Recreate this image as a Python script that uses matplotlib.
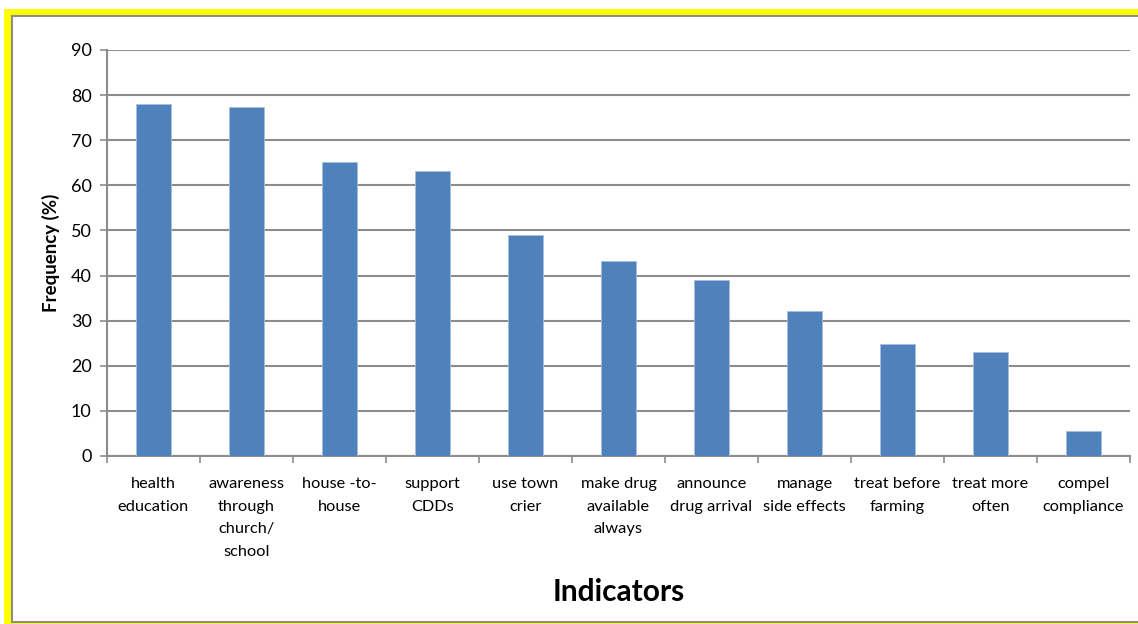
import matplotlib.pyplot as plt
from matplotlib.patches import Rectangle
import numpy as np

categories = [
    "health\neducation", "awareness\nthrough\nchurch/\nschool", "house -to-\nhouse",
    "support\nCDDs", "use town\ncrier", "make drug\navailable\nalways",
    "announce\ndrug arrival", "manage\nside effects", "treat before\nfarming",
    "treat more\noften", "compel\ncompliance",
]
frequency = [78.0, 77.4, 65.1, 63.1, 48.9, 43.3, 39.0, 32.2, 24.8, 23.0, 5.6]

W, H = 1138, 624
fig = plt.figure(figsize=(W / 100, H / 100), dpi=100)
plt.rcParams['font.family'] = ['Lato', 'DejaVu Sans']


def px(x0, y0, x1, y1):
    # pixel box (top-left origin) -> figure coords rect args
    return (x0 / W, 1 - y1 / H), (x1 - x0) / W, (y1 - y0) / H


# yellow frame and inner chart area
xy, w, h = px(4, 9, W + 5, H + 5)
fig.add_artist(Rectangle(xy, w, h, transform=fig.transFigure, facecolor="#ffff00", edgecolor="none", zorder=0))
xy, w, h = px(12, 16, W + 5, 622)
fig.add_artist(Rectangle(xy, w, h, transform=fig.transFigure, facecolor="white", edgecolor="#8c8c8c", linewidth=1.5, zorder=0))

ax = fig.add_axes([107 / W, 1 - 456 / H, (1130 - 107) / W, (456 - 50) / H])
ax.set_facecolor("none")

x = np.arange(len(categories))
ax.bar(x, frequency, width=0.38, color="#4f81bd", edgecolor="#a6bddb", linewidth=0.6, zorder=3)

ax.set_xlim(-0.5, len(categories) - 0.5)
ax.set_ylim(0, 90)
ax.set_yticks(np.arange(0, 91, 10))
ax.yaxis.grid(True, color="#8c8c8c", linewidth=1.5, zorder=0)
ax.tick_params(axis="y", labelsize=13, length=5, color="#8c8c8c", width=1.2, pad=6)

ax.set_xticks(x)
ax.set_xticklabels(categories, fontsize=11.8, linespacing=1.8, va="top")
ax.set_xticks(np.arange(-0.5, len(categories), 1), minor=True)
ax.tick_params(axis="x", which="major", length=0, pad=15)
ax.tick_params(axis="x", which="minor", length=5, color="#8c8c8c", width=1.2)

for s in ["top", "right"]:
    ax.spines[s].set_visible(False)
for s in ["left", "bottom"]:
    ax.spines[s].set_color("#8c8c8c")
    ax.spines[s].set_linewidth(1.5)

ax.set_ylabel("Frequency (%)", fontsize=13.5, fontweight="bold", labelpad=8)
fig.text((107 + 1130) / 2 / W, 1 - 592 / H, "Indicators", fontsize=21.5, fontweight="bold", ha="center", va="center")

fig.savefig("out.png", dpi=100)
